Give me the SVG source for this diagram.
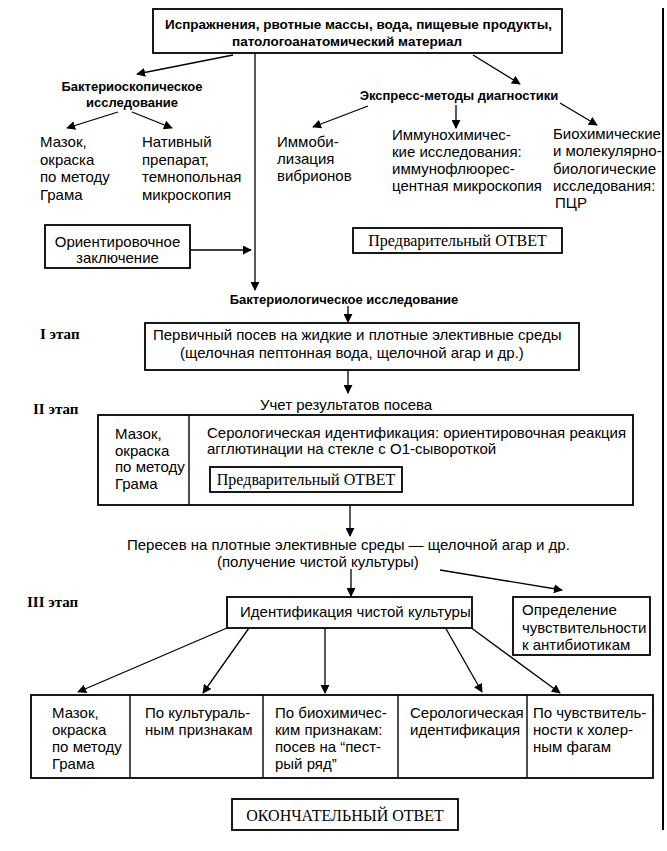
<svg xmlns="http://www.w3.org/2000/svg" width="667" height="851" viewBox="0 0 667 851">
<defs>
<marker id="ah" viewBox="0 0 10 10" refX="9" refY="5" markerWidth="9" markerHeight="9" markerUnits="userSpaceOnUse" orient="auto">
<path d="M0,0 L10,5 L0,10 z" fill="#000"/>
</marker>
<style>
.bx{fill:#fff;stroke:#000;stroke-width:1.8}
.ln{fill:none;stroke:#000;stroke-width:1.4}
.c{stroke:#000;stroke-width:1.3;fill:none;marker-end:url(#ah)}
.t{font-family:"Liberation Sans",Arial,sans-serif;font-size:15px;fill:#000}
.b{font-family:"Liberation Sans",Arial,sans-serif;font-size:13px;font-weight:bold;fill:#000}
.s{font-family:"Liberation Serif","Times New Roman",serif;font-size:16px;fill:#000}
.st{font-family:"Liberation Serif","Times New Roman",serif;font-size:15px;font-weight:bold;fill:#000}
</style>
</defs>
<rect width="667" height="851" fill="#fff"/>
<line x1="663" y1="8" x2="663" y2="830" stroke="#000" stroke-width="2"/>

<g id="connectors">
<line class="c" x1="233" y1="55" x2="137" y2="74"/>
<line class="c" x1="473" y1="55" x2="520" y2="84"/>
<line class="c" x1="255" y1="53" x2="255" y2="290"/>
<line class="c" x1="118" y1="112" x2="67" y2="128"/>
<line class="c" x1="132" y1="112" x2="172" y2="128"/>
<line class="c" x1="368" y1="106" x2="313" y2="127"/>
<line class="c" x1="456" y1="105" x2="456" y2="128"/>
<line class="c" x1="560" y1="103" x2="597" y2="125"/>
<line class="c" x1="190" y1="250" x2="251" y2="250"/>
<line class="c" x1="348" y1="306" x2="348" y2="322"/>
<line class="c" x1="348" y1="370" x2="348" y2="393"/>
<line class="c" x1="350" y1="505" x2="350" y2="536"/>
<line class="c" x1="351" y1="569" x2="351" y2="596"/>
<line class="c" x1="440" y1="570" x2="562" y2="590"/>
<line class="c" x1="227" y1="628" x2="78" y2="692"/>
<line class="c" x1="249" y1="628" x2="203" y2="693"/>
<line class="c" x1="325" y1="628" x2="325" y2="693"/>
<line class="c" x1="445" y1="627" x2="482" y2="692"/>
<line class="c" x1="470" y1="627" x2="560" y2="693"/>
</g>

<g id="source">
<rect class="bx" x="153" y="9" width="409" height="44"/>
<text class="b" x="165" y="29" style="font-size:13.5px">Испражнения, рвотные массы, вода, пищевые продукты,</text>
<text class="b" x="232" y="46" style="font-size:13.5px">патологоанатомический материал</text>
</g>

<g id="bacterioscopy">
<text class="b" x="132" y="91" text-anchor="middle">Бактериоскопическое</text>
<text class="b" x="132" y="107" text-anchor="middle">исследование</text>
</g>

<g id="smear1">
<text class="t" x="40" y="147">Мазок,</text>
<text class="t" x="40" y="164.5">окраска</text>
<text class="t" x="40" y="182">по методу</text>
<text class="t" x="40" y="199.5">Грама</text>
</g>

<g id="native">
<text class="t" x="142" y="147">Нативный</text>
<text class="t" x="142" y="164.5">препарат,</text>
<text class="t" x="142" y="182">темнопольная</text>
<text class="t" x="142" y="199.5">микроскопия</text>
</g>

<g id="express">
<text class="b" x="459" y="100" text-anchor="middle">Экспресс-методы диагностики</text>
</g>

<g id="immob">
<text class="t" x="277" y="147">Иммоби-</text>
<text class="t" x="277" y="164">лизация</text>
<text class="t" x="277" y="181">вибрионов</text>
</g>

<g id="immunochem">
<text class="t" x="392" y="140">Иммунохимичес-</text>
<text class="t" x="392" y="157">кие исследования:</text>
<text class="t" x="392" y="174">иммунофлюорес-</text>
<text class="t" x="392" y="191">центная микроскопия</text>
</g>

<g id="biochem">
<text class="t" x="553" y="139">Биохимические</text>
<text class="t" x="553" y="156">и молекулярно-</text>
<text class="t" x="553" y="174">биологические</text>
<text class="t" x="553" y="191">исследования:</text>
<text class="t" x="555" y="208">ПЦР</text>
</g>

<g id="orient">
<rect class="bx" x="45" y="225" width="145" height="43"/>
<text class="t" x="117.5" y="247" text-anchor="middle">Ориентировочное</text>
<text class="t" x="117.5" y="263" text-anchor="middle">заключение</text>
</g>

<g id="prelim1">
<rect class="bx" x="353" y="228" width="209" height="25"/>
<text class="s" x="457.5" y="246" text-anchor="middle">Предварительный ОТВЕТ</text>
</g>

<g id="bacteriology">
<text class="b" x="344" y="304" text-anchor="middle">Бактериологическое исследование</text>
</g>

<g id="stage1">
<text class="st" x="40" y="339">I этап</text>
<rect class="bx" x="145" y="323" width="434" height="47"/>
<text class="t" x="153" y="340">Первичный посев на жидкие и плотные элективные среды</text>
<text class="t" x="180" y="358">(щелочная пептонная вода, щелочной агар и др.)</text>
</g>

<g id="stage2">
<text class="st" x="33" y="414">II этап</text>
<text class="t" x="260" y="410">Учет результатов посева</text>
<rect class="bx" x="98" y="415" width="535" height="90"/>
<line class="ln" x1="189" y1="415" x2="189" y2="505"/>
<text class="t" x="115" y="439">Мазок,</text>
<text class="t" x="115" y="455.5">окраска</text>
<text class="t" x="115" y="472">по методу</text>
<text class="t" x="115" y="488.5">Грама</text>
<text class="t" x="207" y="438">Серологическая идентификация: ориентировочная реакция</text>
<text class="t" x="207" y="454">агглютинации на стекле с O1-сывороткой</text>
<rect class="bx" x="210" y="467" width="192" height="25"/>
<text class="s" x="306" y="485" text-anchor="middle">Предварительный ОТВЕТ</text>
</g>

<g id="reseed">
<text class="t" x="127" y="550">Пересев на плотные элективные среды — щелочной агар и др.</text>
<text class="t" x="217" y="567">(получение чистой культуры)</text>
</g>

<g id="stage3">
<text class="st" x="27" y="607">III этап</text>
<rect class="bx" x="227" y="597" width="245" height="31"/>
<text class="t" x="240" y="617">Идентификация чистой культуры</text>
</g>

<g id="sensitivity">
<rect class="bx" x="513" y="597" width="137" height="58"/>
<text class="t" x="522" y="615">Определение</text>
<text class="t" x="522" y="632.5">чувствительности</text>
<text class="t" x="522" y="650">к антибиотикам</text>
</g>

<g id="results">
<rect class="bx" x="31" y="695" width="622" height="83"/>
<line class="ln" x1="130" y1="695" x2="130" y2="778"/>
<line class="ln" x1="263" y1="695" x2="263" y2="778"/>
<line class="ln" x1="398" y1="695" x2="398" y2="778"/>
<line class="ln" x1="527" y1="695" x2="527" y2="778"/>
<text class="t" x="52" y="718">Мазок,</text>
<text class="t" x="52" y="735">окраска</text>
<text class="t" x="52" y="752">по методу</text>
<text class="t" x="52" y="769">Грама</text>
<text class="t" x="145" y="718">По культураль-</text>
<text class="t" x="145" y="735">ным признакам</text>
<text class="t" x="275" y="718">По биохимичес-</text>
<text class="t" x="275" y="735">ким признакам:</text>
<text class="t" x="275" y="752">посев на “пест-</text>
<text class="t" x="275" y="769">рый ряд”</text>
<text class="t" x="410" y="718">Серологическая</text>
<text class="t" x="410" y="735">идентификация</text>
<text class="t" x="533" y="718">По чувствитель-</text>
<text class="t" x="533" y="735">ности к холер-</text>
<text class="t" x="533" y="752">ным фагам</text>
</g>

<g id="final">
<rect class="bx" x="232" y="799" width="226" height="31"/>
<text class="s" x="345" y="821" text-anchor="middle">ОКОНЧАТЕЛЬНЫЙ ОТВЕТ</text>
</g>
</svg>
